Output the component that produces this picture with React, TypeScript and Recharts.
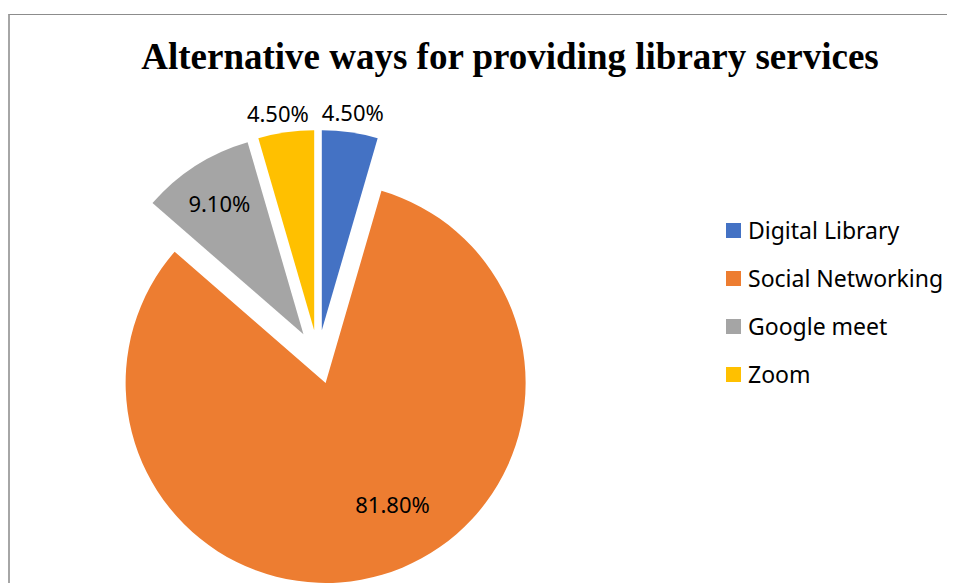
import React from 'react';
import { PieChart, Pie, Cell, Legend } from 'recharts';

const categories = ['Digital Library', 'Social Networking', 'Google meet', 'Zoom'];
const shares = [4.5, 81.8, 9.1, 4.5];
const colors = ['#4472C4', '#ED7D31', '#A5A5A5', '#FFC000'];

const data = categories.map((name, i) => ({ name, value: shares[i] }));

// pie geometry (chart coords)
const CX = 310;
const CY = 349;
const R = 200;
const EXPLODE = 27;

// label placement per slice: radius factor and angle nudge (deg)
const labelRadius = [1.1, 0.69, 0.78, 1.1];
const labelShift = [0, 12.6, 0, 1.4];

const RADIAN = Math.PI / 180;
const total = shares.reduce((a, b) => a + b, 0);

let acc = 0;
const mids = shares.map((v) => {
  const m = ((acc + v / 2) / total) * 360;
  acc += v;
  return m;
});

const LegendBox = () => (
  <div style={{ fontFamily: '"Noto Sans", sans-serif', fontSize: 23, color: '#000' }}>
    {categories.map((c, i) => (
      <div key={c} style={{ height: 48, display: 'flex', alignItems: 'center' }}>
        <span style={{ width: 15, height: 15, background: colors[i], display: 'inline-block', marginRight: 7 }} />
        <span>{c}</span>
      </div>
    ))}
  </div>
);

const makeLabel = (slice: number) => (props: any) => {
  const { cx, cy, midAngle, outerRadius, index, value } = props;
  if (index !== slice) return null;
  const a = (midAngle + labelShift[slice]) * RADIAN;
  const r = outerRadius * labelRadius[slice];
  const x = cx + r * Math.cos(-a);
  const y = cy + r * Math.sin(-a);
  return (
    <text
      x={x}
      y={y}
      fill="#000"
      fontSize={22}
      fontFamily='"Noto Sans", sans-serif'
      textAnchor="middle"
      dominantBaseline="central"
    >
      {`${Number(value).toFixed(2)}%`}
    </text>
  );
};

const App: React.FC = () => {
  return (
    <div style={{ position: 'relative', width: 947, height: 575, overflow: 'hidden' }}>
      <style>{'#root { width: 947px; }'}</style>
      <div
        style={{
          position: 'absolute',
          left: 0,
          top: 6,
          width: 960,
          height: 580,
          borderLeft: '2px solid #a6a6a6',
          borderTop: '1px solid #8c8c8c',
        }}
      />
      <div
        style={{
          position: 'absolute',
          left: 102,
          top: 30,
          width: 800,
          textAlign: 'center',
          fontFamily: '"Liberation Serif", "Times New Roman", serif',
          fontWeight: 'bold',
          fontSize: 37,
          lineHeight: '37px',
          color: '#000',
          whiteSpace: 'nowrap',
        }}
      >
        Alternative ways for providing library services
      </div>
      <div style={{ position: 'absolute', left: 0, top: 0 }}>
        <PieChart width={947} height={575} margin={{ top: 0, right: 0, bottom: 0, left: 0 }}>
          {categories.map((c, s) => (
            <Pie
              key={c}
              data={data}
              dataKey="value"
              nameKey="name"
              cx={CX + EXPLODE * Math.sin(mids[s] * RADIAN)}
              cy={CY - EXPLODE * Math.cos(mids[s] * RADIAN)}
              outerRadius={R}
              startAngle={90}
              endAngle={-270}
              stroke="none"
              labelLine={false}
              label={makeLabel(s)}
              isAnimationActive={false}
            >
              {data.map((d, i) => (
                <Cell key={d.name} fill={i === s ? colors[i] : 'transparent'} stroke="none" />
              ))}
            </Pie>
          ))}
          <Legend
            layout="vertical"
            verticalAlign="top"
            align="right"
            content={() => <LegendBox />}
            wrapperStyle={{ left: 718, top: 198, width: 229 }}
          />
        </PieChart>
      </div>
    </div>
  );
};

export default App;
